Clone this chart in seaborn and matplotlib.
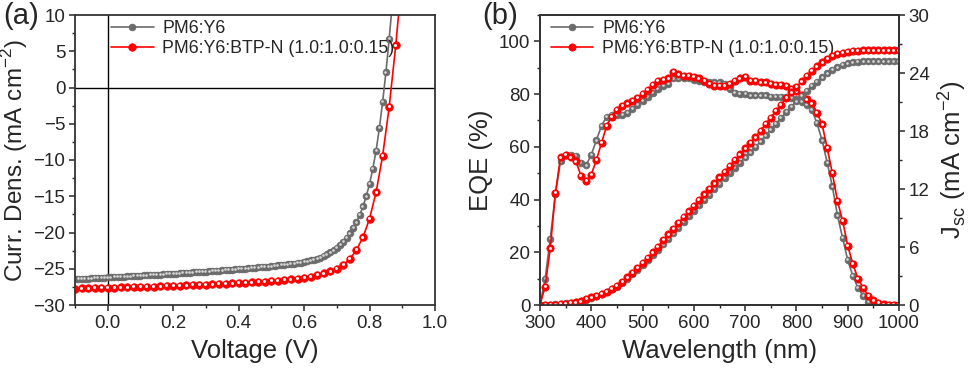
import matplotlib
matplotlib.use('Agg')
import matplotlib.pyplot as plt
import matplotlib.transforms as mtransforms
from matplotlib.ticker import MultipleLocator, FormatStrFormatter
import numpy as np
import pandas as pd
import seaborn as sns

# ---------------- J-V data (panel a) ----------------
v_ref = [-0.10, -0.09, -0.08, -0.07, -0.06, -0.05, -0.04, -0.03, -0.02, -0.01, 0.00,
         0.01, 0.02, 0.03, 0.04, 0.05, 0.06, 0.07, 0.08, 0.09, 0.10,
         0.11, 0.12, 0.13, 0.14, 0.15, 0.16, 0.17, 0.18, 0.19, 0.20,
         0.21, 0.22, 0.23, 0.24, 0.25, 0.26, 0.27, 0.28, 0.29, 0.30,
         0.31, 0.32, 0.33, 0.34, 0.35, 0.36, 0.37, 0.38, 0.39, 0.40,
         0.41, 0.42, 0.43, 0.44, 0.45, 0.46, 0.47, 0.48, 0.49, 0.50,
         0.51, 0.52, 0.53, 0.54, 0.55, 0.56, 0.57, 0.58, 0.59, 0.60,
         0.61, 0.62, 0.63, 0.64, 0.65, 0.66, 0.67, 0.68, 0.69, 0.70,
         0.71, 0.72, 0.73, 0.74, 0.75, 0.76, 0.77, 0.78, 0.79, 0.80,
         0.81, 0.82, 0.83, 0.84, 0.85, 0.86, 0.87]
j_ref = [-26.45, -26.43, -26.40, -26.38, -26.35, -26.33, -26.30, -26.28, -26.25, -26.23, -26.20,
         -26.18, -26.15, -26.13, -26.10, -26.08, -26.05, -26.03, -26.00, -25.98, -25.95,
         -25.93, -25.90, -25.88, -25.85, -25.83, -25.80, -25.78, -25.75, -25.73, -25.70,
         -25.67, -25.64, -25.60, -25.57, -25.54, -25.51, -25.47, -25.44, -25.41, -25.38,
         -25.34, -25.31, -25.28, -25.25, -25.21, -25.18, -25.15, -25.12, -25.08, -25.05,
         -25.01, -24.97, -24.93, -24.89, -24.85, -24.81, -24.77, -24.73, -24.69, -24.65,
         -24.60, -24.55, -24.50, -24.45, -24.40, -24.34, -24.28, -24.21, -24.14, -24.05,
         -23.96, -23.85, -23.73, -23.60, -23.45, -23.25, -23.00, -22.75, -22.45, -22.10,
         -21.70, -21.25, -20.70, -20.10, -19.40, -18.60, -17.60, -16.40, -15.00, -13.30,
         -11.20, -8.70, -5.60, -2.00, 2.10, 6.70, 11.80]

v_btp = [-0.10, -0.08, -0.06, -0.04, -0.02, 0.00, 0.02, 0.04, 0.06, 0.08, 0.10,
         0.12, 0.14, 0.16, 0.18, 0.20, 0.22, 0.24, 0.26, 0.28, 0.30,
         0.32, 0.34, 0.36, 0.38, 0.40, 0.42, 0.44, 0.46, 0.48, 0.50,
         0.52, 0.54, 0.56, 0.58, 0.60, 0.62, 0.64, 0.66, 0.68, 0.70,
         0.72, 0.74, 0.76, 0.78, 0.80, 0.82, 0.84, 0.86, 0.88, 0.90]
j_btp = [-27.75, -27.72, -27.70, -27.67, -27.65, -27.62, -27.60, -27.57, -27.55, -27.52, -27.50,
         -27.47, -27.45, -27.42, -27.38, -27.35, -27.32, -27.28, -27.25, -27.21, -27.18,
         -27.14, -27.10, -27.06, -27.02, -26.97, -26.92, -26.87, -26.82, -26.76, -26.70,
         -26.63, -26.55, -26.46, -26.35, -26.22, -26.07, -25.88, -25.65, -25.37, -25.00,
         -24.45, -23.65, -22.40, -20.65, -18.10, -14.45, -9.40, -2.70, 5.80, 15.50]

# ---------------- EQE / integrated Jsc (panel b) ----------------
wavelength = [300, 310, 320, 330, 340, 350, 360, 370, 380, 390,
              400, 410, 420, 430, 440, 450, 460, 470, 480, 490,
              500, 510, 520, 530, 540, 550, 560, 570, 580, 590,
              600, 610, 620, 630, 640, 650, 660, 670, 680, 690,
              700, 710, 720, 730, 740, 750, 760, 770, 780, 790,
              800, 810, 820, 830, 840, 850, 860, 870, 880, 890,
              900, 910, 920, 930, 940, 950, 960, 970, 980, 990, 1000]
eqe_ref = [0.0, 10.0, 25.0, 42.0, 54.5, 57.0, 57.0, 56.5, 54.0, 53.0,
           57.0, 62.5, 68.0, 71.5, 72.0, 72.0, 72.0, 73.0, 74.5, 76.0,
           77.5, 79.0, 80.5, 82.0, 83.0, 84.0, 86.0, 86.0, 86.0, 86.0,
           85.5, 85.0, 84.5, 84.5, 84.5, 84.5, 84.0, 82.0, 80.5, 80.0,
           80.0, 79.5, 79.5, 79.5, 79.5, 79.0, 79.0, 79.0, 79.0, 78.5,
           78.0, 77.0, 76.0, 74.0, 69.0, 62.5, 54.0, 45.0, 34.0, 25.5,
           17.0, 11.0, 6.5, 3.5, 1.2, 0.2, 0.0, 0.0, 0.0, 0.0, 0.0]
eqe_btp = [0.0, 7.0, 21.5, 42.5, 56.0, 57.0, 56.0, 54.5, 49.0, 47.0,
           49.5, 55.0, 61.5, 68.0, 71.5, 74.0, 75.5, 76.5, 77.5, 78.5,
           80.0, 81.5, 83.5, 85.0, 85.5, 86.0, 88.5, 87.5, 87.0, 87.0,
           86.5, 86.0, 85.0, 84.0, 83.0, 83.0, 83.0, 84.0, 85.0, 86.0,
           86.5, 85.0, 85.0, 84.5, 84.5, 84.0, 83.5, 83.5, 83.0, 82.0,
           81.0, 79.5, 78.0, 76.5, 73.0, 68.5, 59.5, 50.0, 39.5, 32.0,
           22.5, 15.5, 10.0, 6.5, 3.5, 1.8, 0.8, 0.2, 0.1, 0.0, 0.0]
jsc_ref = [0.00, 0.01, 0.03, 0.06, 0.10, 0.16, 0.23, 0.31, 0.41, 0.55,
           0.72, 0.91, 1.12, 1.35, 1.61, 1.90, 2.30, 2.73, 3.18, 3.65,
           4.14, 4.65, 5.18, 5.72, 6.28, 6.84, 7.42, 8.00, 8.58, 9.16,
           9.73, 10.30, 10.87, 11.43, 11.99, 12.56, 13.12, 13.66, 14.20, 14.73,
           15.27, 15.80, 16.33, 16.93, 17.55, 18.16, 18.76, 19.36, 19.95, 20.53,
           21.08, 21.62, 22.14, 22.64, 23.12, 23.56, 23.95, 24.30, 24.60, 24.83,
           25.00, 25.10, 25.16, 25.19, 25.20, 25.20, 25.20, 25.20, 25.20, 25.20, 25.20]
jsc_btp = [0.00, 0.01, 0.02, 0.05, 0.09, 0.14, 0.20, 0.28, 0.38, 0.62,
           0.80, 0.98, 1.17, 1.39, 1.66, 1.97, 2.40, 2.86, 3.34, 3.84,
           4.36, 4.90, 5.46, 6.02, 6.72, 7.30, 7.90, 8.50, 9.10, 9.70,
           10.28, 10.86, 11.44, 12.00, 12.60, 13.20, 13.80, 14.40, 15.00, 15.60,
           16.20, 16.80, 17.35, 18.05, 18.72, 19.39, 20.06, 20.73, 21.40, 22.00,
           22.55, 23.15, 23.70, 24.20, 24.70, 25.10, 25.45, 25.75, 25.98, 26.12,
           26.22, 26.28, 26.31, 26.33, 26.35, 26.35, 26.35, 26.35, 26.35, 26.35, 26.35]

labels = ['PM6:Y6', 'PM6:Y6:BTP-N (1.0:1.0:0.15)']
gray, red = '#6b6b6b', '#ff0000'
gray_hi, red_hi = '#d6d6d6', '#ffffff'

sns.set_style('ticks')
plt.rcParams['font.family'] = ['Liberation Sans', 'DejaVu Sans']
plt.rcParams['mathtext.fontset'] = 'custom'
plt.rcParams['mathtext.rm'] = 'Liberation Sans'

fig = plt.figure(figsize=(9.7, 3.75), dpi=100)
ax1 = fig.add_axes([75 / 970, 70 / 375, 360 / 970, 290 / 375])
ax2 = fig.add_axes([540 / 970, 70 / 375, 359 / 970, 290 / 375])
ax3 = ax2.twinx()


def ball_plot(ax, x, y, color, hi, ms, label=None):
    '''line with shaded round markers'''
    sns.lineplot(x=x, y=y, ax=ax, color=color, lw=1.2, marker='o', markersize=ms,
                 markeredgecolor=color, markerfacecolor=color, markeredgewidth=0.6,
                 label=label, sort=False, estimator=None)
    off = mtransforms.offset_copy(ax.transData, fig=fig, x=-0.4, y=0.5, units='points')
    ax.plot(x, y, ls='none', marker='o', markersize=ms * 0.4, color=hi,
            markeredgewidth=0, transform=off)


def style_axis(ax):
    for s in ax.spines.values():
        s.set_linewidth(1.3)
        s.set_color('#333333')
    ax.tick_params(which='major', direction='out', length=4, width=1.1, labelsize=13.5, pad=3)
    ax.tick_params(which='minor', direction='out', length=2.5, width=1.0)


# panel (a)
ax1.axhline(0, color='black', lw=1.0, zorder=0)
ax1.axvline(0, color='black', lw=1.0, zorder=0)
ball_plot(ax1, v_ref, j_ref, gray, gray_hi, 4.8, labels[0])
ball_plot(ax1, v_btp, j_btp, red, red_hi, 5.4, labels[1])
ax1.set_xlim(-0.1, 1.0)
ax1.set_ylim(-30, 10)
ax1.xaxis.set_major_locator(MultipleLocator(0.2))
ax1.xaxis.set_minor_locator(MultipleLocator(0.1))
ax1.yaxis.set_major_locator(MultipleLocator(5))
ax1.yaxis.set_minor_locator(MultipleLocator(2.5))
ax1.xaxis.set_major_formatter(FormatStrFormatter('%.1f'))
ax1.set_xlabel('Voltage (V)', fontsize=18.5, labelpad=5)
ax1.set_ylabel('Curr. Dens. (mA cm$^{-2}$)', fontsize=17.5, labelpad=2)
style_axis(ax1)
ax1.legend(loc='upper left', bbox_to_anchor=(0.07, 1.02), frameon=False, fontsize=12.8,
           handlelength=2.4, handletextpad=0.5, labelspacing=0.2, borderaxespad=0.2)

# panel (b)
ball_plot(ax2, wavelength, eqe_ref, gray, gray_hi, 4.8, labels[0])
ball_plot(ax2, wavelength, eqe_btp, red, red_hi, 5.2, labels[1])
ball_plot(ax3, wavelength, jsc_ref, gray, gray_hi, 4.8)
ball_plot(ax3, wavelength, jsc_btp, red, red_hi, 5.2)
ax2.set_xlim(300, 1000)
ax2.set_ylim(0, 110)
ax3.set_ylim(0, 30)
ax2.xaxis.set_major_locator(MultipleLocator(100))
ax2.xaxis.set_minor_locator(MultipleLocator(50))
ax2.yaxis.set_major_locator(MultipleLocator(20))
ax2.yaxis.set_minor_locator(MultipleLocator(10))
ax3.yaxis.set_major_locator(MultipleLocator(6))
ax3.yaxis.set_minor_locator(MultipleLocator(3))
ax2.set_xlabel('Wavelength (nm)', fontsize=18.5, labelpad=5)
ax2.set_ylabel('EQE (%)', fontsize=18.5, labelpad=4)
ax3.set_ylabel('J$_{\\rm sc}$ (mA cm$^{-2}$)', fontsize=18.5, labelpad=4)
style_axis(ax2)
style_axis(ax3)
ax2.legend(loc='upper left', bbox_to_anchor=(0.0, 1.02), frameon=False, fontsize=12.8,
           handlelength=2.4, handletextpad=0.5, labelspacing=0.2, borderaxespad=0.2)

fig.text(3 / 970, 1 - 2 / 375, '(a)', fontsize=21, va='top', ha='left')
fig.text(482 / 970, 1 - 2 / 375, '(b)', fontsize=21, va='top', ha='left')

fig.savefig('out.png', dpi=100)
